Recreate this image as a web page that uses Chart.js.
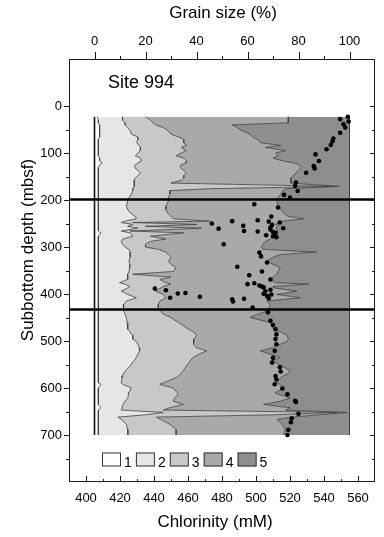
<!DOCTYPE html>
<html><head><meta charset="utf-8">
<script src="https://cdn.jsdelivr.net/npm/chart.js@4/dist/chart.umd.min.js"></script>
<style>html,body{margin:0;padding:0;background:#fff;}canvas{display:block;}</style>
</head><body>
<canvas id="c" width="384" height="537"></canvas>
<script>
// ---- DATA ----
// depth (mbsf) samples of the grain-size profile
const depths = [23,30,36,40,46,53,60,66,71,78,84,88,95,100,106,111,117,121,125,131,137,142,148,153,158,164,171,176,180,188,195,202,213,220,227,235,240,245,248,252,256,260,266,270,277,283,288,294,300,305,311,316,322,330,337,344,352,358,364,369,376,379,384,387,394,401,408,415,422,429,435,443,450,461,468,475,481,488,496,502,507,514,521,528,535,542,549,553,564,571,574,578,589,592,600,610,613,621,628,635,642,647,652,657,662,667,677,688,700];
// cumulative grain size (%) at the upper edge of classes 1..4 (class 5 reaches 100 %)
const cumClass1 = [1,1.5,1.5,2,2,2,2,2,1.5,1.5,1.5,1.5,1.5,1.5,1.5,2,2,3,2,1.5,1.5,1.5,1.5,1.5,1.5,1.5,1.5,1.5,1.5,1.5,1.5,1.5,1.5,1.5,1.5,1.5,1.5,1.5,1.5,1.5,1.5,1.5,1.5,2.5,1.5,1.5,1.5,1.5,1.5,1.5,1.5,1.5,1.5,1.5,1.5,1.5,1.5,1.5,1.5,1.5,1.5,1.5,1.5,1.5,1.5,1.5,1.5,1.5,1.5,1.5,1.5,1.5,1.5,1.5,1.5,1.5,1.5,1.5,1.5,1.5,1.5,1.5,1.5,1.5,1.5,1.5,1.5,1.5,1.5,1.5,1.5,1.5,1.5,2.5,1.5,1.5,1.5,1.5,1.5,1.5,2.5,1.5,1.5,1.5,1.5,1.5,1.5,1.5,1.5];
const cumClass2 = [11,11,12,12,13,14,14.5,17,17,16.5,17.5,18,18,17,16,18,18.4,17,16,15.7,17,18,17,16,15.5,15.7,15.5,15,15,14.4,13.5,13,12.5,13,14,16,16.4,12,10.5,15,13,17,10.5,14,15,11,10.5,11,12,13.5,14,14,14,13.5,13.8,13.8,13.5,13,13,13,9.8,12,13.8,13,10.5,13.1,16.4,12.5,11.5,11.2,11.5,12,12.5,12.8,13,13.1,14,15,15,16.5,17,17.5,17.7,17,16.4,15.5,14.4,14,12,11.2,11,10.8,10.5,11,14.4,13.5,13.3,13.1,12,11.2,10.8,10.5,27,20,9.2,10.5,12.5,13,13.1];
const cumClass3 = [20,22,23,24,27,29,30,33,35,35,36,34,36,34,32,35,36,36,34,33.6,35,36,35,35,34,30,94,45,29.5,29.5,29,29,28,28,28.5,30,31,45,15,40,20,42,14,35,22,28,22,20,20,25,28,29,30,29,30,32,31,15,30,25.6,28,30,27,26,24,27,28,25.6,25,25,25.6,27,30,33,35,37,39,40,39,38.7,39,40,44,41,38.7,37.5,36.7,36,34.8,33.5,33,32,27,25.6,30.8,32.5,32.8,31.5,30.8,34.8,29.5,27,95,70,24.3,26,29.5,32,32];
const cumClass4 = [76,76,76,54,56,58,61,62,64,65,73,67,75,71,72,70,74,78,80,81,80,79,78,77,77,77,96,75,74,73,72,71.5,72,73,74,76,82,74,72,71,72,71,72,71,70,69,67,66,65.5,66,87,72.8,70,67.6,70,72.8,72,71.5,70,68.9,71,84,70,70.2,79.4,71.5,80.7,67.6,68.9,68.5,68.2,64,61,68.9,69.5,70.2,73,75.5,76.1,75,72.8,70,65,69,72.8,69.6,72,73.5,76.8,75.5,74.1,73,71.5,72.5,74.1,70.9,72,76.8,73,66.3,76.8,75,99,88,78,71.5,73.5,74.8,74.1];
const classLabels = ['1','2','3','4','5'];
// pore-water chlorinity (mM) and its sample depth (mbsf)
const clDepth = [23,28,33,39,46,57,69,75,83,92,103,117,128,133,142,163,170,181,189,195,209,216,235,243,245,246,248,250,253,255,258,260,261,263,266,267,268,270,275,277,279,294,312,320,333,342,352,360,369,377,379,382,384,386,388.5,391,392,394,398,399,399.5,401,404,406,408,409,410,411.5,416,429,439,457,466,475,486,496,507,521,535.5,546,556,565,574.5,582,592,601,613.5,627,630,655,664.5,673,689,700];
const clValue = [554,549.5,554.5,551.5,552.5,549.5,545.5,545,544,541.5,535,537,534,534.5,529.5,523.5,523,524.5,516.5,520,499,513,509,501,486,507.5,514,474,509.5,492.5,508.5,516,478,508.5,493,501,510,511.5,506,510,512,481,502,503,506.5,489,503.5,496,508.5,499,495,502,503.5,504.5,440.5,508.5,447,505.5,458.5,454,504.5,509,506.5,467,449.5,507.5,493,486,486.5,498,507,508.5,510,511.5,512,511.5,512,511,510,509.5,514,514.5,511.5,512,511,515.5,518.5,523,523.5,525,521,520.5,519,518.5];
// depths of the two horizontal unit boundaries (mbsf)
const unitBoundaries = [199, 433];
// tick labels
const grainTicks = [0,20,40,60,80,100];
const chlTicks = [400,420,440,460,480,500,520,540,560];
const depthTicks = [0,100,200,300,400,500,600,700];
const titleTop = 'Grain size (%)';
const titleBottom = 'Chlorinity (mM)';
const titleLeft = 'Subbottom depth (mbsf)';
const siteLabel = 'Site 994';

// ---- STYLE ----
const FONT = '"Liberation Sans", Arial, Helvetica, sans-serif';
Chart.defaults.font.family = FONT;
Chart.defaults.color = '#000';
const areaColors = ['#ffffff','#e6e6e6','#c8c8c8','#a9a9a9','#8e8e8e'];

const toPts = arr => arr.map((x, i) => ({x: x, y: depths[i]}));
const leftEdge = depths.map(() => 0);
const rightEdge = depths.map(() => 100);
const bounds = [cumClass1, cumClass2, cumClass3, cumClass4, rightEdge];

const datasets = [
  {label: 'edge', data: toPts(leftEdge), xAxisID: 'xg', yAxisID: 'y', borderColor: '#111', borderWidth: 1.6, pointRadius: 0, fill: false, order: 1}
];
bounds.forEach((b, i) => datasets.push({
  label: classLabels[i], data: toPts(b), xAxisID: 'xg', yAxisID: 'y',
  borderColor: '#3c3c3c', borderWidth: 0.8, backgroundColor: areaColors[i],
  pointRadius: 0, fill: '-1', order: 1
}));
datasets.push({
  label: 'Chlorinity', data: clDepth.map((d, i) => ({x: clValue[i], y: d})),
  xAxisID: 'xc', yAxisID: 'y', showLine: false, pointRadius: 2.3, pointBorderWidth: 0,
  pointBackgroundColor: '#000', pointBorderColor: '#000', order: -2
});
unitBoundaries.forEach(d => datasets.push({
  label: 'boundary', data: [{x: -10, y: d}, {x: 110, y: d}], xAxisID: 'xg', yAxisID: 'y',
  borderColor: '#000', borderWidth: 2.6, pointRadius: 0, fill: false, order: -1
}));

const range = (a, b, s) => { const r = []; for (let v = a; v <= b + 1e-9; v += s) r.push(v); return r; };

const framePlugin = {
  id: 'frame',
  afterDraw(chart) {
    const {ctx, chartArea: a, scales} = chart;
    ctx.save();
    ctx.strokeStyle = '#1a1a1a';
    ctx.lineWidth = 1;
    ctx.strokeRect(a.left + 0.5, a.top + 0.5, a.right - a.left - 1, a.bottom - a.top - 1);
    ctx.beginPath();
    range(0, 750, 50).forEach(v => {
      const p = Math.round(scales.y.getPixelForValue(v)) + 0.5;
      const L = v % 100 === 0 ? 5 : 3;
      ctx.moveTo(a.left - L, p); ctx.lineTo(a.left, p);
      ctx.moveTo(a.right - L, p); ctx.lineTo(a.right, p);
    });
    range(0, 100, 10).forEach(v => {
      const p = Math.round(scales.xg.getPixelForValue(v)) + 0.5;
      const L = v % 20 === 0 ? 7 : 3;
      ctx.moveTo(p, a.top - L); ctx.lineTo(p, a.top);
    });
    range(400, 560, 10).forEach(v => {
      const p = Math.round(scales.xc.getPixelForValue(v)) + 0.5;
      const L = v % 20 === 0 ? 6 : 3;
      ctx.moveTo(p, a.bottom - L); ctx.lineTo(p, a.bottom);
    });
    ctx.stroke();

    // titles
    ctx.fillStyle = '#000';
    ctx.font = '17px ' + FONT;
    ctx.textAlign = 'center';
    ctx.textBaseline = 'alphabetic';
    ctx.fillText(titleTop, 223, 18);
    ctx.fillText(titleBottom, 215, 527);
    ctx.save();
    ctx.translate(33, 250);
    ctx.rotate(-Math.PI / 2);
    ctx.fillText(titleLeft, 0, 0);
    ctx.restore();
    ctx.textAlign = 'left';
    ctx.font = '18px ' + FONT;
    ctx.fillText(siteLabel, 108, 88);

    // legend of grain-size classes
    ctx.font = '14px ' + FONT;
    for (let i = 0; i < 5; i++) {
      const ds = chart.data.datasets[i + 1];
      const x = 102 + i * 33.9, y = 452.5;
      ctx.fillStyle = ds.backgroundColor;
      ctx.fillRect(x, y, 19, 14);
      ctx.strokeStyle = '#333';
      ctx.lineWidth = 1;
      ctx.strokeRect(x + 0.5, y + 0.5, 18, 13);
      ctx.fillStyle = '#000';
      ctx.fillText(ds.label, x + 22, y + 14);
    }
    ctx.restore();
  }
};

new Chart(document.getElementById('c'), {
  type: 'line',
  data: {datasets},
  options: {
    indexAxis: 'y',
    responsive: false,
    animation: false,
    devicePixelRatio: 1,
    layout: {padding: {left: 0, right: 9, top: 0, bottom: 0}},
    plugins: {legend: {display: false}, tooltip: {enabled: false}},
    elements: {line: {tension: 0}},
    scales: {
      y: {
        type: 'linear', position: 'left', reverse: true, min: -100, max: 800,
        afterBuildTicks: s => { s.ticks = depthTicks.map(v => ({value: v})); },
        afterFit: s => { s.width = 69; },
        grid: {display: false, drawTicks: false}, border: {display: false},
        ticks: {padding: 7, font: {size: 13}, color: '#000', autoSkip: false}
      },
      xg: {
        type: 'linear', position: 'top', min: -10, max: 110,
        afterBuildTicks: s => { s.ticks = grainTicks.map(v => ({value: v})); },
        afterFit: s => { s.height = 59; },
        grid: {display: false, drawTicks: false}, border: {display: false},
        ticks: {padding: 10, font: {size: 13}, color: '#000', autoSkip: false, maxRotation: 0}
      },
      xc: {
        type: 'linear', position: 'bottom', min: 390, max: 570,
        afterBuildTicks: s => { s.ticks = chlTicks.map(v => ({value: v})); },
        afterFit: s => { s.height = 55; },
        grid: {display: false, drawTicks: false}, border: {display: false},
        ticks: {padding: 9, font: {size: 13}, color: '#000', autoSkip: false, maxRotation: 0}
      }
    }
  },
  plugins: [framePlugin]
});
</script>
</body></html>
